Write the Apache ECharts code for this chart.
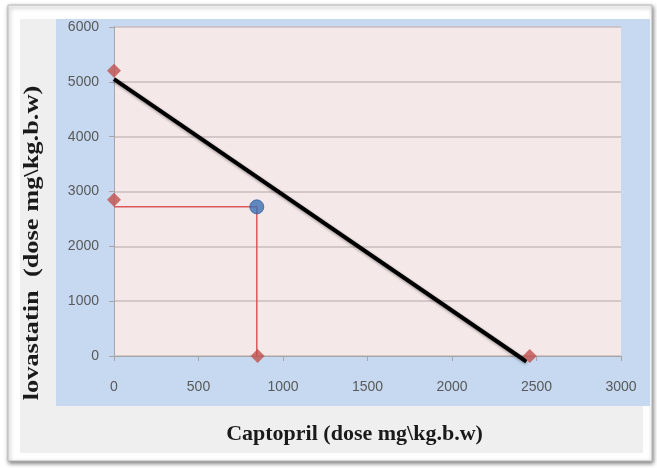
<!DOCTYPE html>
<html><head><meta charset="utf-8">
<script src="https://cdn.jsdelivr.net/npm/echarts@6/dist/echarts.min.js"></script>
<style>html,body{margin:0;padding:0;background:#fff}#c{width:657px;height:468px}</style>
</head><body><div id="c"></div>
<script>
var xTicks = [0, 500, 1000, 1500, 2000, 2500, 3000];
var yTicks = [0, 1000, 2000, 3000, 4000, 5000, 6000];
var isobole = [[0, 5050], [2440, -100]];
var singleDoses = [[0, 5200], [0, 2850], [850, 0], [2460, 0]];
var guideLines = [[0, 2720], [845, 2720], [845, 0]];
var combination = [[845, 2720]];
var xTitle = 'Captopril (dose mg\\kg.b.w)';
var yTitle = 'lovastatin  (dose mg\\kg.b.w)';

var chart = echarts.init(document.getElementById('c'), null, {renderer: 'canvas'});
chart.setOption({
  backgroundColor: '#ffffff',
  animation: false,
  graphic: [
    {type: 'rect', z: -10, shape: {x: 8, y: 5, width: 644, height: 456}, style: {fill: '#ffffff', stroke: '#b8b8b8', lineWidth: 1, shadowBlur: 4, shadowOffsetX: 1, shadowOffsetY: 2, shadowColor: 'rgba(0,0,0,0.5)'}},
    {type: 'rect', z: -9, shape: {x: 20, y: 19, width: 623, height: 434}, style: {fill: '#efefef'}},
    {type: 'rect', z: -8, shape: {x: 56, y: 19, width: 594, height: 387}, style: {fill: '#c6d9f1'}},
    {type: 'text', z: 10, x: 32, y: 243, rotation: Math.PI / 2, scaleX: 1.2,
     style: {text: yTitle, font: 'bold 22px "Liberation Serif"', fill: '#1a1a1a', textAlign: 'center', textVerticalAlign: 'middle'}}
  ],
  grid: {left: 114, top: 27, right: 36, bottom: 112, show: true, backgroundColor: '#f5e8e8', borderWidth: 0},
  xAxis: {
    type: 'value', min: 0, max: 3000, interval: 500,
    name: xTitle, nameLocation: 'middle', nameGap: 67,
    nameTextStyle: {fontFamily: 'Liberation Serif', fontWeight: 'bold', fontSize: 22, color: '#1a1a1a', padding: [0, 26, 0, 0]},
    axisLine: {show: true, lineStyle: {color: '#a6a6a6', width: 1}},
    axisTick: {show: true, inside: false, length: 5, lineStyle: {color: '#a6a6a6'}},
    axisLabel: {fontFamily: 'Liberation Sans', fontSize: 14, color: '#595959', margin: 24,
                formatter: function (v) { return String(v); }},
    splitLine: {show: false}
  },
  yAxis: {
    type: 'value', min: 0, max: 6000, interval: 1000,
    axisLine: {show: true, lineStyle: {color: '#a6a6a6', width: 1}},
    axisTick: {show: true, length: 5, lineStyle: {color: '#a6a6a6'}},
    axisLabel: {fontFamily: 'Liberation Sans', fontSize: 14, color: '#595959', margin: 15,
                formatter: function (v) { return String(v); }},
    splitLine: {show: true, lineStyle: {color: '#c9bdbd', width: 1.5}}
  },
  series: [
    {type: 'line', data: guideLines, showSymbol: false, symbol: 'none', clip: false,
     lineStyle: {color: '#d9595b', width: 1.5}, z: 2},
    {type: 'line', data: isobole, showSymbol: false, symbol: 'none', clip: false,
     lineStyle: {color: '#000000', width: 4, shadowBlur: 3, shadowColor: 'rgba(0,0,0,0.4)', shadowOffsetY: 1}, z: 3},
    {type: 'scatter', data: singleDoses, symbol: 'diamond', symbolSize: 14, clip: false,
     itemStyle: {color: '#c0504d'}, z: 4},
    {type: 'scatter', data: combination, symbol: 'circle', symbolSize: 14, clip: false,
     itemStyle: {color: '#3b6fb4', borderColor: '#2f5f9e', borderWidth: 1}, z: 5}
  ]
});
</script></body></html>
